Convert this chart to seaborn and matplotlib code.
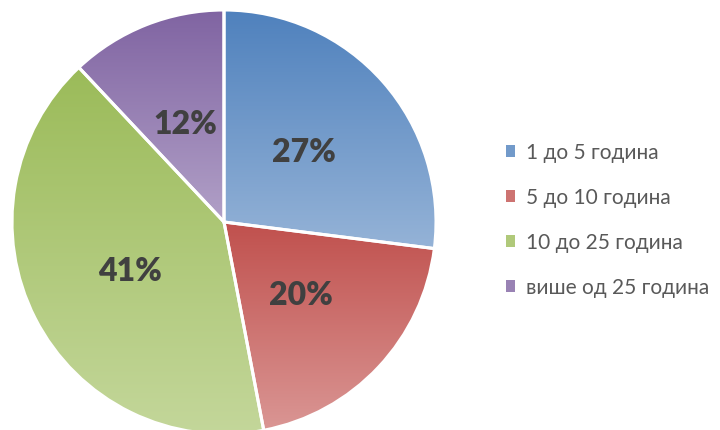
import numpy as np
import matplotlib
matplotlib.use("Agg")
import matplotlib.pyplot as plt
import seaborn as sns
from matplotlib.patches import Patch
from matplotlib.colors import to_rgb

# =========================================================
# DONNÉES
# =========================================================
categories = ["1 до 5 година", "5 до 10 година", "10 до 25 година", "више од 25 година"]
values = [27, 20, 41, 12]
top_colors = ["#4F81BD", "#C0504D", "#9BBB59", "#8064A2"]
bottom_colors = ["#95B3D7", "#DA9694", "#C4D79B", "#B1A0C7"]

sns.set_style("white")
plt.rcParams["font.family"] = ["Lato", "DejaVu Sans"]

fig = plt.figure(figsize=(7.2, 4.31), dpi=100)
ax = fig.add_axes([12 / 720, -4 / 431, 424 / 720, 424 / 431])

wedges, texts, autotexts = ax.pie(
    values,
    startangle=90,
    counterclock=False,
    autopct="%d%%",
    pctdistance=0.5,
    wedgeprops=dict(edgecolor="white", linewidth=2.2),
    textprops=dict(fontsize=23, fontweight="heavy", color="#404040"),
)

# dégradé vertical dans chaque secteur (foncé en haut, clair en bas)
for w, c_top, c_bot in zip(wedges, top_colors, bottom_colors):
    path = w.get_path().transformed(w.get_patch_transform())
    x0, y0 = path.vertices.min(axis=0)
    x1, y1 = path.vertices.max(axis=0)
    t = np.linspace(0, 1, 256)[:, None]
    grad = (1 - t) * np.array(to_rgb(c_top)) + t * np.array(to_rgb(c_bot))
    img = ax.imshow(grad[:, None, :].repeat(2, axis=1), extent=(x0, x1, y0, y1),
                    origin="upper", aspect="auto", zorder=1, interpolation="bilinear")
    img.set_clip_path(w)
    w.set_facecolor("none")
    w.set_zorder(2)

for t in autotexts:
    t.set_zorder(3)

ax.set_xlim(-1.0, 1.0)
ax.set_ylim(-1.0, 1.0)
ax.set_aspect("equal")
ax.axis("off")

mid_colors = [tuple((np.array(to_rgb(a)) + np.array(to_rgb(b))) / 2) for a, b in zip(top_colors, bottom_colors)]
handles = [Patch(facecolor=c, edgecolor="none") for c in mid_colors]
fig.legend(
    handles, categories,
    loc="center left", bbox_to_anchor=(506 / 720, 1 - 221 / 431),
    frameon=False, fontsize=15, labelcolor="#595959",
    handlelength=0.45, handleheight=0.45, handletextpad=0.5,
    labelspacing=1.2, borderpad=0, borderaxespad=0,
)

fig.savefig("out.png", dpi=100)
